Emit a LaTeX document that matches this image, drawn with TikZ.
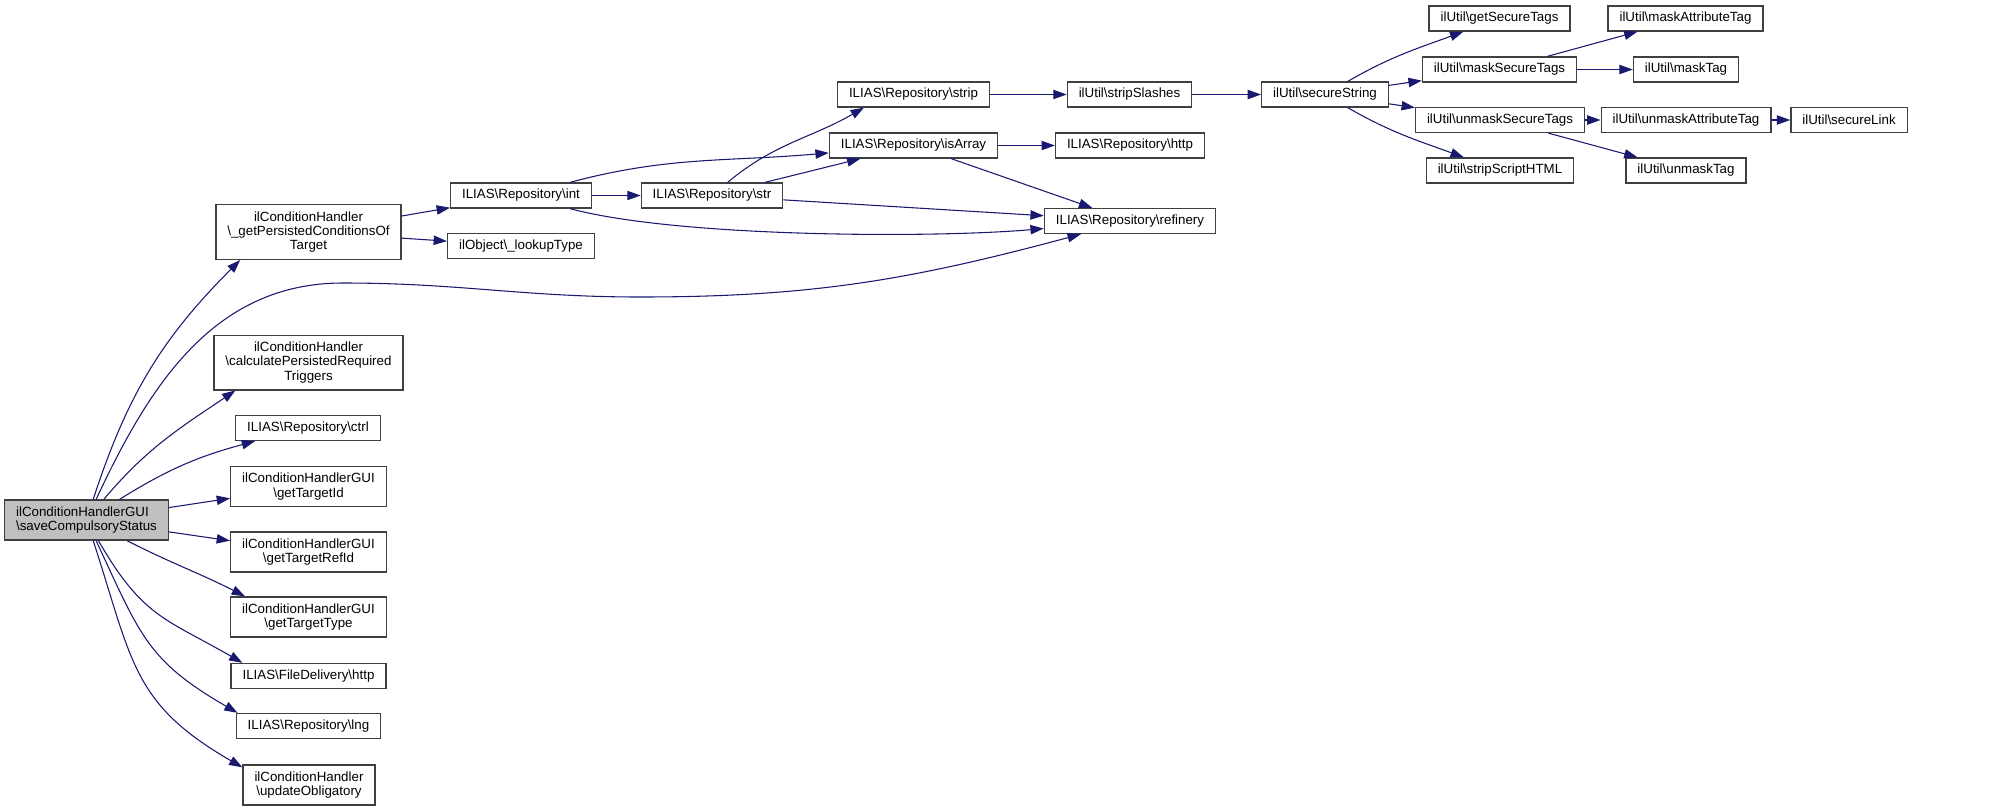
\documentclass[tikz,border=0pt]{standalone}
\usepackage{fontspec}
\setmainfont{Liberation Sans}
\usetikzlibrary{arrows.meta,calc}
\definecolor{callblue}{HTML}{191970}
\definecolor{rootgray}{HTML}{BFBFBF}
\newcommand{\bsl}{\textbackslash}

\begin{document}
\begin{tikzpicture}[
    x=0.75pt, y=-0.75pt,
    func/.style={draw=black!75, line width=1pt, fill=white, align=center, inner xsep=8.6pt, inner ysep=1pt, minimum height=18.75pt, font=\fontsize{10}{10.7}\selectfont},
    tall/.style={minimum height=30pt},
    taller/.style={minimum height=41pt},
    root/.style={func, tall, fill=rootgray, align=left},
    call/.style={-{Triangle[length=10pt, width=7pt]}, draw=callblue, line width=0.8pt}
]
    \useasboundingbox (0,0) rectangle (1989,811);

    % caller and its direct callees
    \node[root] (main) at (86.5,520) {ilConditionHandlerGUI\\\bsl saveCompulsoryStatus};
    \node[func, taller] (persist) at (308.5,232) {ilConditionHandler\\\bsl\_getPersistedConditionsOf\\Target};
    \node[func, taller] (calcreq) at (308.5,362.5) {ilConditionHandler\\\bsl calculatePersistedRequired\\Triggers};
    \node[func] (ctrl) at (308,428) {ILIAS\bsl Repository\bsl ctrl};
    \node[func, tall] (tid) at (308.5,486.5) {ilConditionHandlerGUI\\\bsl getTargetId};
    \node[func, tall] (trefid) at (308.5,552) {ilConditionHandlerGUI\\\bsl getTargetRefId};
    \node[func, tall] (ttype) at (308.5,617) {ilConditionHandlerGUI\\\bsl getTargetType};
    \node[func] (fdhttp) at (308.5,676) {ILIAS\bsl FileDelivery\bsl http};
    \node[func] (lng) at (308.5,726) {ILIAS\bsl Repository\bsl lng};
    \node[func, tall] (oblig) at (309,785) {ilConditionHandler\\\bsl updateObligatory};

    % repository helpers
    \node[func] (int) at (521,195.5) {ILIAS\bsl Repository\bsl int};
    \node[func] (lookup) at (521,246) {ilObject\bsl\_lookupType};
    \node[func] (str) at (712,195.5) {ILIAS\bsl Repository\bsl str};
    \node[func] (strip) at (913.5,94.5) {ILIAS\bsl Repository\bsl strip};
    \node[func] (isarr) at (913.5,145.5) {ILIAS\bsl Repository\bsl isArray};
    \node[func] (refinery) at (1130,221) {ILIAS\bsl Repository\bsl refinery};
    \node[func] (slashes) at (1129.5,94.5) {ilUtil\bsl stripSlashes};
    \node[func] (rhttp) at (1130,145.5) {ILIAS\bsl Repository\bsl http};

    % ilUtil
    \node[func] (secstr) at (1325,94.5) {ilUtil\bsl secureString};
    \node[func] (getsec) at (1499.5,18.5) {ilUtil\bsl getSecureTags};
    \node[func] (masksec) at (1499.5,69.5) {ilUtil\bsl maskSecureTags};
    \node[func] (unmasksec) at (1500,120) {ilUtil\bsl unmaskSecureTags};
    \node[func] (stripscript) at (1500,170.5) {ilUtil\bsl stripScriptHTML};
    \node[func] (maskattr) at (1685.5,18.5) {ilUtil\bsl maskAttributeTag};
    \node[func] (masktag) at (1686,69.5) {ilUtil\bsl maskTag};
    \node[func] (unmaskattr) at (1686,120) {ilUtil\bsl unmaskAttributeTag};
    \node[func] (unmasktag) at (1686,170.5) {ilUtil\bsl unmaskTag};
    \node[func] (seclink) at (1849,120) {ilUtil\bsl secureLink};

    \draw[call] (main) to[out=72,in=225] ($(persist.south west)+(25,0)$);
    \draw[call] (main) to[out=65,in=180] (343,283) to[out=0,in=180] (640,297) to[out=0,in=195] (refinery);
    \draw[call] (main) to[out=50,in=214] ($(calcreq.south west)+(22,0)$);
    \draw[call] (main) to[out=32,in=195] ($(ctrl.south west)+(20,0)$);
    \draw[call] (main) -- (tid);
    \draw[call] (main) -- (trefid);
    \draw[call] (main) to[out=-27,in=153] ($(ttype.north west)+(15,0)$);
    \draw[call] (main) to[out=-60,in=150,looseness=1.2] ($(fdhttp.north west)+(12,0)$);
    \draw[call] (main) to[out=-65,in=150,looseness=1.2] ($(lng.north west)+(2,0)$);
    \draw[call] (main) to[out=-72,in=150,looseness=1.2] ($(oblig.north west)+(0,3)$);

    \draw[call] (persist) -- (int);
    \draw[call] (persist) -- (lookup);
    \draw[call] (int) -- (str);
    \draw[call] (int) to[out=15,in=185] (isarr);
    \draw[call] (int) to[out=-15,in=185,looseness=0.6] (refinery);
    \draw[call] (str) to[out=40,in=210] ($(strip.south west)+(27,0)$);
    \draw[call] (str) -- (isarr);
    \draw[call] (str) -- (refinery);
    \draw[call] (strip) -- (slashes);
    \draw[call] (isarr) -- (rhttp);
    \draw[call] (isarr) -- (refinery);
    \draw[call] (slashes) -- (secstr);

    \draw[call] (secstr) to[out=30,in=200] (getsec);
    \draw[call] (secstr) -- (masksec);
    \draw[call] (secstr) -- (unmasksec);
    \draw[call] (secstr) to[out=-30,in=160] (stripscript);
    \draw[call] (masksec) -- (maskattr);
    \draw[call] (masksec) -- (masktag);
    \draw[call] (unmasksec) -- (unmaskattr);
    \draw[call] (unmasksec) -- (unmasktag);
    \draw[call] (unmaskattr) -- (seclink);
\end{tikzpicture}
\end{document}
